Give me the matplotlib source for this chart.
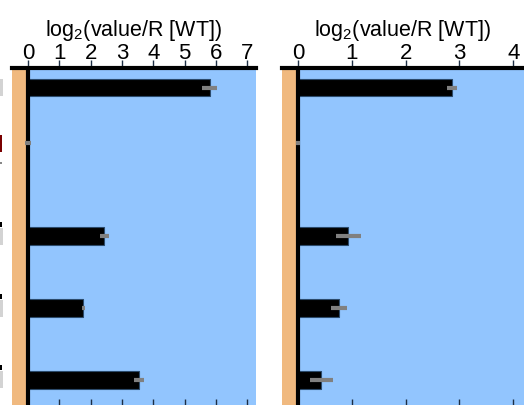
import matplotlib
matplotlib.use("Agg")
import matplotlib.pyplot as plt
from matplotlib.patches import Rectangle

# ---- data ----
rows = [0.0, 0.77, 2.06, 3.06, 4.06]          # row positions of the five categories
left_values = [5.81, 0.0, 2.44, 1.77, 3.54]
left_errors = [0.24, 0.11, 0.15, 0.06, 0.16]
right_values = [2.86, 0.0, 0.935, 0.76, 0.43]
right_errors = [0.10, 0.04, 0.24, 0.15, 0.21]
left_ticks = [0, 1, 2, 3, 4, 5, 6, 7]
right_ticks = [0, 1, 2, 3, 4]
xlabel = r"log$_\mathregular{2}$(value/R [WT])"

FONT = ["Liberation Sans", "DejaVu Sans"]
plt.rcParams["font.family"] = FONT
plt.rcParams["mathtext.fontset"] = "custom"
plt.rcParams["mathtext.rm"] = "Liberation Sans"

ORANGE = "#F0B97F"
BLUE = "#92C5FE"
W, H = 524, 406
fig = plt.figure(figsize=(W / 100, H / 100), dpi=100)
fig.patch.set_facecolor("white")

top_px = 69
bot = -1 / H
hgt = (H - top_px) / H - bot

ax1 = fig.add_axes([12 / W, bot, 244 / W, hgt])
ax2 = fig.add_axes([282 / W, bot, 242 / W, hgt])

def style(ax, values, errors, ticks, xlim):
    ax.set_facecolor(BLUE)
    ax.axvspan(xlim[0], 0, color=ORANGE, lw=0, zorder=0)
    ax.barh(rows, values, height=0.24, color="black", edgecolor="#2b4a6b",
            linewidth=0.8, zorder=2)
    ax.errorbar(values, rows, xerr=errors, fmt="none", ecolor="#808080",
                elinewidth=3, capsize=0, zorder=3)
    ax.axvline(0, color="black", lw=3, zorder=2.5)
    ax.set_xlim(*xlim)
    ax.set_ylim(4.42, -0.274)
    ax.set_yticks([])
    for s in ("left", "right", "bottom"):
        ax.spines[s].set_visible(False)
    ax.spines["top"].set_linewidth(3)
    ax.spines["top"].set_color("black")
    ax.set_xticks(ticks)
    ax.tick_params(axis="x", which="both", top=True, bottom=True,
                   labeltop=True, labelbottom=False, labelsize=16,
                   color="#1d2f45", width=1, length=6, pad=-2.5,
                   direction="out")
    for t in ax.xaxis.get_major_ticks():
        t.tick1line.set_marker(2)   # bottom tick pointing up, into the plot
        t.tick1line.set_markersize(5)
    ax.xaxis.set_label_position("top")
    ax.set_xlabel(xlabel, fontsize=15.5, labelpad=5)

style(ax1, left_values, left_errors, left_ticks, (-0.51, 7.28))
style(ax2, right_values, right_errors, right_ticks, (-0.3, 4.2))

# cut-off label boxes at the left edge
def frag(x, y, w, h, c):
    fig.patches.append(Rectangle((x / W, 1 - (y + h) / H), w / W, h / H,
                                 transform=fig.transFigure, color=c, lw=0))
frag(0, 80, 3, 17, "#d3d3d3")
frag(0, 136, 2, 17, "#7a0000")
frag(0, 163, 2, 2, "#888888")
for y0 in (223, 295, 366):
    frag(0, y0, 2, 5, "black")
    frag(0, y0 + 6, 3, 17, "#d3d3d3")

fig.savefig("out.png", dpi=100)
